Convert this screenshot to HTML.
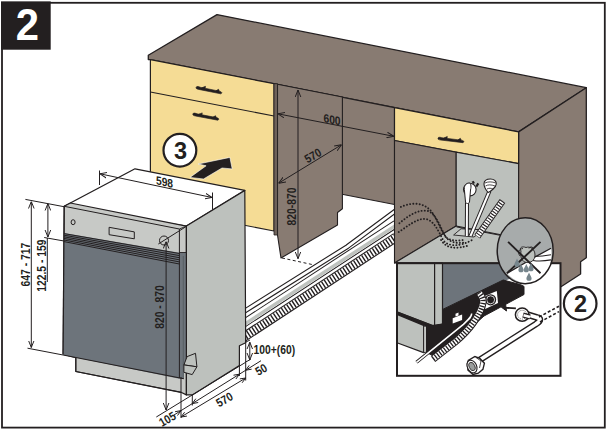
<!DOCTYPE html>
<html><head><meta charset="utf-8">
<style>
html,body{margin:0;padding:0;background:#fff;width:607px;height:432px;overflow:hidden}
svg{display:block}
text{font-family:"Liberation Sans",sans-serif;font-weight:bold;fill:#231f20}
</style></head><body>
<svg width="607" height="432" viewBox="0 0 607 432">
<defs>
<marker id="ah" viewBox="0 0 10 10" refX="10" refY="5" markerWidth="7" markerHeight="7" orient="auto-start-reverse" markerUnits="userSpaceOnUse">
<path d="M0,1 L10,5 L0,9" fill="none" stroke="#231f20" stroke-width="1.4"/>
</marker>
</defs>
<g stroke="#231f20" stroke-linejoin="round">
<!-- countertop -->
<polygon points="217,14.6 586.3,87.7 518.6,131.9 150.4,59.6 148.3,59.6 148.3,55.3" fill="#887b72" stroke-width="1.3"/>
<!-- right side panel -->
<polygon points="518.6,131.9 586.3,87.7 586.3,257.7 580.6,261.7 580.6,274 561,286.7 518,286.7" fill="#887b72" stroke-width="1.3"/>
<!-- back wall in gap -->
<polygon points="274,83.7 394.5,107.6 394.5,204.5 342,194.3" fill="#887b72" stroke-width="1.1"/>
<!-- left cabinet front -->
<polygon points="150.4,59.6 274,83.7 274,231 150.4,207" fill="#f5dc95" stroke-width="1.2"/>
<line x1="150.4" y1="92" x2="274" y2="116" stroke-width="1.1"/>
<!-- side panel of left cabinet in gap -->
<polygon points="277.5,84.3 342.4,97 342.4,208.8 337.5,212.5 337.5,225 281,258 277.5,235" fill="#887b72" stroke-width="1.1"/>
<rect x="274" y="83.7" width="3.5" height="151.3" fill="#6e625a" stroke-width="0.8"/>
</g>
<!-- HOSES on floor -->
<g fill="none" stroke-linecap="butt" stroke-linejoin="round">
<polyline points="240,314 347.4,246.6 396,210.5" stroke="#231f20" stroke-width="5"/>
<polyline points="240,314 347.4,246.6 396,210.5" stroke="#fff" stroke-width="2.8"/>
<line x1="240" y1="325.8" x2="396" y2="223.9" stroke="#231f20" stroke-width="8.4"/>
<line x1="240" y1="325.8" x2="396" y2="223.9" stroke="#fff" stroke-width="6.4"/>
<line x1="240.6" y1="326.8" x2="396.6" y2="224.9" stroke="#bfc3bf" stroke-width="3.4"/>
<line x1="240" y1="339.6" x2="396" y2="237.2" stroke="#231f20" stroke-width="9.6"/>
<line x1="240" y1="339.6" x2="396" y2="237.2" stroke="#fff" stroke-width="7.4"/>
<line x1="240" y1="339.6" x2="396" y2="237.2" stroke="#231f20" stroke-width="7.4" stroke-dasharray="1.4,1.8"/>
</g>
<g stroke="#231f20" stroke-linejoin="round">
<!-- right cabinet -->
<polygon points="394.5,107.6 518.6,131.9 518.6,163.6 394.5,140.5" fill="#f5dc95" stroke-width="1.2"/>
<polygon points="394.5,140.5 456.2,152.3 456.2,226 394.5,263" fill="#887b72" stroke-width="1.1"/>
<polygon points="456.2,152.3 518.6,163.6 518.6,263 456.2,226" fill="#bcc0bc" stroke-width="1.1"/>
<polygon points="394.5,263 456.2,226 518,238 540,263" fill="#bcc0bc" stroke-width="1.1"/>
</g>
<!-- handles -->
<g fill="#231f20" stroke="#231f20" stroke-width="0.6">
<g transform="translate(209.0,90.3) rotate(11.1)"><path d="M-13.2,-0.6 C-13.2,-2 -10.2,-1.6 -9.2,-1.3 L10.2,-1.1 C13.2,-1 13.7,0.2 12.2,1.2 L-10.2,1.1 C-13.2,1 -13.2,0.4 -13.2,-0.6Z M-7.2,-1.3 L-4.2,-3.2 L-4.2,-1.2Z M7.2,-1.1 L9.2,-2.8 L10.2,-1.1Z"/></g>
<g transform="translate(205.9,116.8) rotate(10.4)"><path d="M-13.3,-0.6 C-13.3,-2 -10.3,-1.6 -9.3,-1.3 L10.3,-1.1 C13.3,-1 13.8,0.2 12.3,1.2 L-10.3,1.1 C-13.3,1 -13.3,0.4 -13.3,-0.6Z M-7.3,-1.3 L-4.3,-3.2 L-4.3,-1.2Z M7.3,-1.1 L9.3,-2.8 L10.3,-1.1Z"/></g>
<g transform="translate(451.0,140.1) rotate(6.4)"><path d="M-13.1,-0.6 C-13.1,-2 -10.1,-1.6 -9.1,-1.3 L10.1,-1.1 C13.1,-1 13.6,0.2 12.1,1.2 L-10.1,1.1 C-13.1,1 -13.1,0.4 -13.1,-0.6Z M-7.1,-1.3 L-4.1,-3.2 L-4.1,-1.2Z M7.1,-1.1 L9.1,-2.8 L10.1,-1.1Z"/></g>
</g>
<!-- DISHWASHER -->
<g stroke="#231f20" stroke-linejoin="round">
<polygon points="135,168.8 244.8,190.4 186.4,226.1 64.2,206.3" fill="#fff" stroke-width="1.3"/>
<polygon points="186.4,226.1 244.8,190.4 245.7,342.7 239.4,345.8 239.4,365.5 192.3,394.9 186.4,394.9" fill="#bdc1bd" stroke-width="1.2"/>
<polygon points="64.2,206.3 70.4,203 186.4,226.1 186.4,394.9 181,392.3 75.8,371.5 75.8,357.7 63.1,354.2" fill="#c7c9c6" stroke-width="1.2"/>
<polygon points="64,233 179.4,252.8 179.4,378.8 63.1,355" fill="#6d747b" stroke="none"/>
<polygon points="179.4,252.5 186.4,252.5 186.4,364.9 183.9,364.9 183.9,378.8 179.4,378.8" fill="#6d747b" stroke="none"/>
<line x1="64.2" y1="206.3" x2="179.4" y2="229" stroke-width="1"/>
<line x1="179.4" y1="229" x2="186.4" y2="226.1" stroke-width="0.9"/>
<line x1="179.4" y1="252.5" x2="186.4" y2="252.5" stroke-width="0.9"/>
<line x1="63.1" y1="355" x2="183.9" y2="378.8" stroke-width="1.1"/>
<line x1="75.8" y1="357.7" x2="75.8" y2="371.5" stroke-width="1"/>
<line x1="75.8" y1="371.5" x2="181" y2="392.3" stroke-width="1.1"/>
<line x1="179.4" y1="229" x2="179.4" y2="378" stroke-width="1"/>
<line x1="183.3" y1="256" x2="183.3" y2="378" stroke-width="0.7" stroke="#50565a"/>
<line x1="64.2" y1="206.3" x2="63.1" y2="354.2" stroke-width="1.2"/>
<line x1="186.4" y1="226.1" x2="186.4" y2="394.9" stroke-width="1.2"/>
</g>
<!-- vent stripes -->
<g stroke="#231f20" stroke-width="1">
<line x1="64" y1="233.6" x2="179.4" y2="253.5"/>
<line x1="64" y1="235.2" x2="179.4" y2="255.6"/>
<line x1="64" y1="236.8" x2="179.4" y2="257.7"/>
<line x1="64" y1="238.4" x2="179.4" y2="259.8"/>
<line x1="64" y1="240.0" x2="179.4" y2="261.9"/>
<line x1="64" y1="241.6" x2="179.4" y2="264.0"/>
</g>
<ellipse cx="73.1" cy="222.2" rx="2" ry="2.5" fill="none" stroke="#231f20" stroke-width="1"/>
<polygon points="109.1,227.3 134.3,231.9 134.3,238.8 109.1,234.7" fill="#c7c9c6" stroke="#231f20" stroke-width="1"/>
<circle cx="164" cy="240.5" r="4.5" fill="none" stroke="#231f20" stroke-width="1"/>
<!-- foot cover -->
<g stroke="#231f20" stroke-width="1" fill="#bdc1bd" stroke-linejoin="round">
<polygon points="187.1,356.6 195.5,353.3 196.9,366.8 183.9,364.9"/>
<polygon points="183.9,364.9 196.9,366.8 192.2,374.6 183.9,372.3"/>
</g>
<!-- cabinet interior details -->
<g fill="none" stroke="#231f20">
<line x1="456.5" y1="226.9" x2="504" y2="236" stroke-width="1"/>
<polygon points="453.6,235 461,228.8 483,229.8 474,237" fill="#c9ccc9" stroke-width="0.9"/>
</g>
<g fill="none" stroke="#231f20" stroke-width="1.9" stroke-linecap="round" stroke-dasharray="0.1,3.1">
<path d="M400.9,206.9 C410,203 422,201 431,211 C438,220 441,232 447,238 C452,241 458,241 463,240"/>
<path d="M399.4,223.2 C408,216 418,209 428,211 C436,214 440,226 445,236 C450,243 458,244 466,242"/>
<path d="M398.7,232.1 C408,226 417,218 426,219 C434,221 438,230 443,240 C448,247 460,247 473,239.5"/>
<path d="M441,240 C446,248 455,250 470,245"/>
</g>
<!-- plug & hoses in cabinet -->
<g stroke="#231f20" stroke-linejoin="round" fill="none">
<line x1="467" y1="200" x2="466.8" y2="236" stroke-width="4"/>
<line x1="467" y1="200" x2="466.8" y2="236" stroke="#fff" stroke-width="2"/>
<line x1="472.6" y1="181.2" x2="474" y2="183.5" stroke-width="2.2"/>
<line x1="478.3" y1="183.4" x2="476.3" y2="186.6" stroke-width="2.2"/>
<circle cx="469.8" cy="189.6" r="6.3" fill="#fff" stroke-width="1.1"/>
<path d="M464.5,191 C463.5,186 466,183 469,183 C471,183 471.5,186 470.5,190 L469.5,202 C469,204 466,204 465.5,202 Z" fill="#fff" stroke-width="1"/>
<line x1="489.5" y1="191" x2="470.5" y2="236" stroke-width="4"/>
<line x1="489.5" y1="191" x2="470.5" y2="236" stroke="#fff" stroke-width="2"/>
<path d="M484,184 C484,180 488,179 490.5,179 C494,179 496.5,181 496.3,184 C496,187 491,191.5 488,192.5 C486,190 484,187 484,184Z" fill="#fff" stroke-width="1.1"/>
<path d="M485,183 C488,181.5 492,181.5 495.8,183 M485.5,186 C488,184.5 491,184.5 495,186 M487,189 C489,188 491,188 493,189" stroke-width="0.8"/>
<line x1="502.5" y1="201" x2="477.3" y2="236.5" stroke-width="6.8"/>
<line x1="502.5" y1="201" x2="477.3" y2="236.5" stroke="#fff" stroke-width="4.8"/>
<line x1="502.5" y1="201" x2="477.3" y2="236.5" stroke-width="4.8" stroke-dasharray="1.1,1.6"/>
</g>
<!-- INSET -->
<g stroke="#231f20" stroke-linejoin="round">
<rect x="397" y="263.2" width="163.5" height="112.6" fill="#fff" stroke="none"/>
<polygon points="442.5,264 540,264 540,270 508,279.4 442.5,309.5" fill="#6d747b" stroke="none"/>
<polygon points="397,263.2 434.6,263.2 434.6,326.2 397,311.9" fill="#bdc1bd" stroke-width="1.2"/>
<polygon points="434.6,263.2 442.5,263.2 442.5,324 434.6,326.2" fill="#bdc1bd" stroke-width="1.2"/>
<polygon points="397,311.9 434.6,326.2 425.8,326.2 397,314.4" fill="#231f20" stroke-width="0.8"/>
<polygon points="397,314.4 423.6,325.4 423.6,352.6 397,342.7" fill="#bdc1bd" stroke-width="1.2"/>
<polygon points="423.6,326.2 426.5,326.2 426.5,352.2 423.6,352.6" fill="#c3c6c3" stroke-width="0.9"/>
<polygon points="442.5,309.5 503.2,280 520.5,284.6 524,286.4 524,294.5 484,316 455,342 436,357 426.5,352.6 426.5,326.2 442.5,324" fill="#231f20" stroke-width="1"/>
<polygon points="484.1,296.2 496.8,291 498,303.1 485.2,308.9" fill="#fff" stroke="none"/>
<circle cx="490.6" cy="299.8" r="5.6" fill="#231f20" stroke="none"/>
<circle cx="490.6" cy="299.8" r="4" fill="#231f20" stroke="#fff" stroke-width="0.8"/>
<polygon points="452.7,318.2 462.1,314.6 462.1,320 452.7,323.6" fill="#fff" stroke="none"/>
<polygon points="455.5,316.6 458.5,315.4 458.5,312.6 455.5,313.8" fill="#fff" stroke="none"/>
</g>
<g fill="none">
<path d="M416.5,362.3 L463.4,324.3 C469,319 472.5,316 471.5,313.5 C470,311.5 467,311.5 465.9,312.1" stroke="#231f20" stroke-width="3.4"/>
<path d="M416.5,362.3 L463.4,324.3 C469,319 472.5,316 471.5,313.5" stroke="#fff" stroke-width="1.6"/>
<path d="M433,359 L455,342 C462,336 468,330 473,323 C478,316 482,310 483,302 C483.5,298 481,295 479,292.5" stroke="#231f20" stroke-width="7.4"/>
<path d="M433,359 L455,342 C462,336 468,330 473,323 C478,316 482,310 483,302 C483.5,298 481,295 479,292.5" stroke="#fff" stroke-width="5.4"/>
<path d="M433,359 L455,342 C462,336 468,330 473,323 C478,316 482,310 483,302 C483.5,298 481,295 479,292.5" stroke="#231f20" stroke-width="5.4" stroke-dasharray="1.3,1.6"/>
</g>
<!-- water supply hose -->
<g fill="none" stroke-linejoin="round">
<path d="M478,361 L536,324 C541,321 541,318 537,317.5 L524,313.5" stroke="#231f20" stroke-width="6.6"/>
<path d="M478,361 L536,324 C541,321 541,318 537,317.5 L524,313.5" stroke="#fff" stroke-width="3.8"/>
</g>
<g stroke="#231f20" fill="#fff">
<path d="M468.4,360.3 L474.9,356.5 L479.8,358.4 L484.4,363.3 L482.9,369.4 L478.3,373.2 L473,374.4 L468,370.2 L467.3,364.1 Z" stroke-width="1.4"/>
<ellipse cx="472" cy="366.5" rx="4.6" ry="6.6" transform="rotate(-25 472 366.5)" fill="#fff" stroke-width="1.1"/>
<ellipse cx="472" cy="366.5" rx="2.8" ry="4.4" transform="rotate(-25 472 366.5)" fill="#9a9d9c" stroke-width="0.8"/>
<path d="M476,357.5 L481,361 L479.5,368" fill="none" stroke-width="0.8"/>
<ellipse cx="522.2" cy="314.7" rx="6.8" ry="6.6" stroke-width="1.5"/>
<ellipse cx="522.2" cy="314.7" rx="4.6" ry="4.4" fill="none" stroke-width="0.7" stroke-dasharray="1,1"/>
<path d="M530,317 L523,315" stroke-width="5"/>
<path d="M530,317 L523.5,315.2" stroke="#fff" stroke-width="2.6"/>
</g>
<g stroke="#231f20" stroke-width="1.6" stroke-dasharray="3,2">
<line x1="539" y1="317" x2="559" y2="306.2"/>
<line x1="540" y1="322" x2="559" y2="311.6"/>
</g>
<path d="M515.9,308.3 L506,307.8" stroke="#231f20" stroke-width="1.8"/>
<path d="M501.4,307.2 L505.5,303.6 L506.5,311 Z" fill="#231f20" stroke="#231f20" stroke-width="1"/>
<rect x="397" y="263.2" width="163.5" height="112.6" fill="none" stroke="#231f20" stroke-width="2"/>
<!-- magnifier -->
<g stroke="#231f20">
<ellipse cx="525.2" cy="250.7" rx="28" ry="33" fill="#a7abab" stroke="none"/>
<path d="M507,273.2 L551,248.3 C553,262 549,276 538,281.5 C527,286 515,283 507,273.2 Z" fill="#fff" stroke="none"/>
<path d="M507,273.2 L530,260 M534,257.5 L551,248.3" fill="none" stroke-width="1.3"/>
<path d="M551,254.7 C545,256 539,256.5 533.5,256.5 M551,259.9 C545,261 539,261.5 533,260.5" fill="none" stroke-width="1.1"/>
<path d="M521,251 C519,247.5 522,246 526,247.5 C530,246 535,249 535,255 C535,261 530,263 526.5,262.5 C522,262 520,257 521,251Z" fill="#bcc0bc" stroke-width="0.9"/>
<path d="M520,256 C517,252 519,249 523,248.5 M529,248.5 C530,246.5 532,246.5 533,248" fill="none" stroke-width="0.9"/>
<line x1="508.1" y1="241.9" x2="540.5" y2="273.2" stroke-width="1.9"/>
<line x1="540.5" y1="241.9" x2="507" y2="273.2" stroke-width="1.9"/>
<ellipse cx="525.2" cy="250.7" rx="28" ry="33" fill="none" stroke-width="1.5"/>
</g>
<g fill="#76858c">
<path d="M517,258.5 C515.44,262.1 514.4,263.3 514.4,264.26 A2.6,2.6 0 0 0 519.6,264.26 C519.6,263.3 518.56,262.1 517,258.5Z"/><path d="M521,264 C519.44,267.6 518.4,268.8 518.4,269.76 A2.6,2.6 0 0 0 523.6,269.76 C523.6,268.8 522.56,267.6 521,264Z"/><path d="M526.3,264 C524.74,267.6 523.6999999999999,268.8 523.6999999999999,269.76 A2.6,2.6 0 0 0 528.9,269.76 C528.9,268.8 527.8599999999999,267.6 526.3,264Z"/><path d="M531,263 C529.44,266.6 528.4,267.8 528.4,268.76 A2.6,2.6 0 0 0 533.6,268.76 C533.6,267.8 532.56,266.6 531,263Z"/><path d="M529,272.5 C527.44,276.1 526.4,277.3 526.4,278.26 A2.6,2.6 0 0 0 531.6,278.26 C531.6,277.3 530.56,276.1 529,272.5Z"/>
</g>
<!-- labels -->
<circle cx="580.2" cy="303.5" r="16.3" fill="#fff" stroke="#231f20" stroke-width="2.2"/>
<text x="580.6" y="311.9" font-size="23.5" text-anchor="middle">2</text>
<circle cx="179.9" cy="150.2" r="16.4" fill="#fff" stroke="#231f20" stroke-width="2.2"/>
<text x="180.6" y="158.6" font-size="23.5" text-anchor="middle">3</text>
<polygon points="190,177.4 206.1,165.8 198.2,164 229.9,157.4 232.2,168.9 222,168 203.5,179" fill="#231f20" stroke="#fff" stroke-width="0.6"/>
<!-- DIMENSIONS -->
<g stroke="#231f20" stroke-width="1" fill="none">
<!-- 598 -->
<line x1="99.5" y1="170.5" x2="99.5" y2="185"/>
<line x1="212.5" y1="192.5" x2="212.5" y2="209.6"/>
<line x1="100" y1="173.8" x2="212" y2="197.5" marker-start="url(#ah)" marker-end="url(#ah)"/>
<!-- 647-717 -->
<line x1="25.4" y1="199.4" x2="64" y2="206.7"/>
<line x1="27.5" y1="348.2" x2="63.1" y2="355"/>
<line x1="31.3" y1="201.5" x2="31.3" y2="347.5" marker-start="url(#ah)" marker-end="url(#ah)"/>
<!-- 122.5-159 -->
<line x1="44.2" y1="237.5" x2="64" y2="241"/>
<line x1="47.9" y1="203.5" x2="47.9" y2="237" marker-start="url(#ah)" marker-end="url(#ah)"/>
<line x1="47.3" y1="238" x2="47.3" y2="282"/>
<!-- 820-870 dishwasher -->
<line x1="158.3" y1="244" x2="186.5" y2="226.3"/>
<line x1="166.1" y1="241.5" x2="166.1" y2="410" marker-start="url(#ah)" marker-end="url(#ah)"/>
<!-- floor dims -->
<line x1="156.3" y1="417" x2="245.8" y2="362.2"/>
<line x1="181" y1="377" x2="181" y2="418"/>
<line x1="192.3" y1="394.9" x2="192.3" y2="405.5"/>
<line x1="239.4" y1="365.5" x2="239.4" y2="376"/>
<line x1="245.7" y1="338" x2="245.7" y2="380.5"/>
<line x1="174" y1="415" x2="261" y2="360.7"/>
<line x1="181" y1="417" x2="245.7" y2="378"/>
<path d="M181.0,410.6 L175.1,411.7 M181.0,410.6 L177.5,415.5 M192.3,403.6 L198.2,402.5 M192.3,403.6 L195.8,398.7 M181.0,417.0 L186.9,416.1 M181.0,417.0 L184.6,412.2 M245.7,378.0 L239.8,378.9 M245.7,378.0 L242.1,382.8 M239.4,374.2 L233.5,375.2 M239.4,374.2 L235.9,379.0 M245.7,370.2 L251.6,369.2 M245.7,370.2 L249.2,365.4 "/>
<line x1="245.6" y1="342.2" x2="250" y2="340"/>
<line x1="245.6" y1="362" x2="250.5" y2="359.5"/>
<line x1="249.8" y1="342.2" x2="249.8" y2="359.9" marker-start="url(#ah)" marker-end="url(#ah)"/>
<!-- gap dims -->
<line x1="298" y1="90" x2="298" y2="258.7" marker-start="url(#ah)" marker-end="url(#ah)"/>
<line x1="277.8" y1="113.8" x2="393.8" y2="136.3" marker-start="url(#ah)" marker-end="url(#ah)"/>
<line x1="278.6" y1="183.2" x2="341.6" y2="144.7" marker-start="url(#ah)" marker-end="url(#ah)"/>
<line x1="282" y1="258" x2="313" y2="264.7" stroke-dasharray="3,2.5"/>
</g>
<g font-size="12">
<text transform="translate(164.5,186.2) skewY(12) scale(0.86,1)" text-anchor="middle">598</text>
<text transform="translate(30.2,264.6) rotate(-90) scale(0.86,1)" text-anchor="middle">647 - 717</text>
<text transform="translate(46.4,265.7) rotate(-90) scale(0.86,1)" text-anchor="middle">122.5 - 159</text>
<text transform="translate(164.3,307) rotate(-90) scale(0.86,1)" text-anchor="middle">820 - 870</text>
<text transform="translate(296.4,206.5) rotate(-90) scale(0.86,1)" text-anchor="middle">820-870</text>
<text transform="translate(332,123.7) skewY(11) scale(0.86,1)" text-anchor="middle">600</text>
<text transform="translate(315,159.2) rotate(-30) scale(0.86,1)" text-anchor="middle">570</text>
<text transform="translate(169.5,422.7) rotate(-30) scale(0.86,1)" text-anchor="middle">105</text>
<text transform="translate(226.5,403.2) rotate(-30) scale(0.86,1)" text-anchor="middle">570</text>
<text transform="translate(263.2,373.2) rotate(-30) scale(0.86,1)" text-anchor="middle">50</text>
<text transform="translate(253.6,353.8) scale(0.86,1)">100+(60)</text>
</g>
<!-- frame -->
<rect x="2" y="2.8" width="602.8" height="424.8" fill="none" stroke="#231f20" stroke-width="1.8"/>
<rect x="1" y="1.4" width="49.7" height="48.3" fill="#231f20"/>
<text transform="translate(27.3,40.3) scale(0.95,1)" font-size="44" text-anchor="middle" style="fill:#fff">2</text>
</svg>
</body></html>
